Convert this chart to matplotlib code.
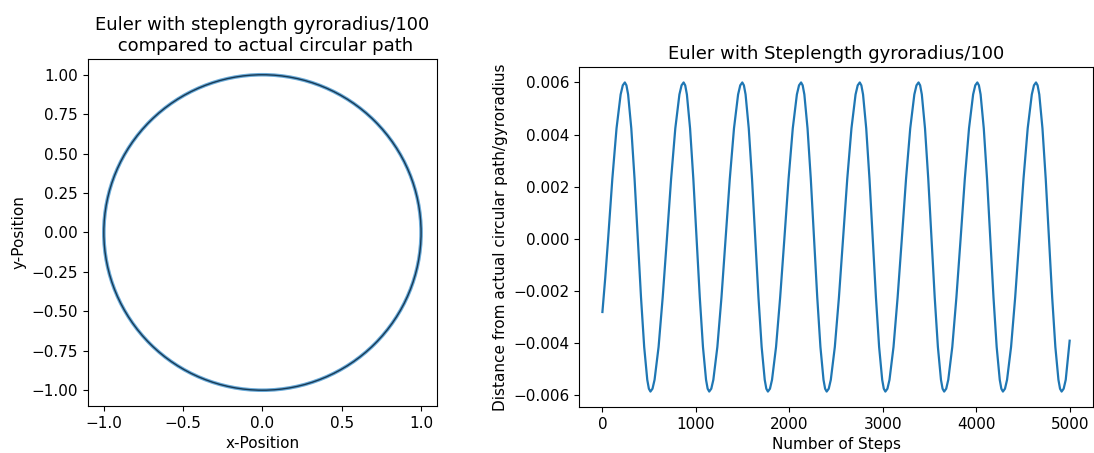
import matplotlib
matplotlib.use("Agg")
import matplotlib.pyplot as plt
from matplotlib.patches import Circle

plt.rcParams['font.size'] = 11

# left panel: radius of the two paths (in units of gyroradius)
euler_radius = 1.0
actual_radius = 1.0

# right panel: distance from circular path / gyroradius
steps = [0, 30,
         61, 106, 151, 195, 218, 240, 257, 275, 309, 344, 379, 413, 447, 480, 497, 514, 536, 558, 601, 645,
         690, 735, 780, 824, 847, 869, 886, 904, 938, 973, 1008, 1042, 1076, 1109, 1126, 1143, 1165, 1187, 1230, 1274,
         1318, 1363, 1408, 1452, 1475, 1497, 1514, 1532, 1566, 1601, 1636, 1670, 1704, 1737, 1754, 1771, 1793, 1815, 1858, 1902,
         1947, 1992, 2037, 2081, 2104, 2126, 2143, 2161, 2195, 2230, 2265, 2299, 2333, 2366, 2383, 2400, 2422, 2444, 2487, 2531,
         2575, 2620, 2665, 2709, 2732, 2754, 2771, 2789, 2823, 2858, 2893, 2927, 2961, 2994, 3011, 3028, 3050, 3072, 3115, 3159,
         3204, 3249, 3294, 3338, 3361, 3383, 3400, 3418, 3452, 3487, 3522, 3556, 3590, 3623, 3640, 3657, 3679, 3701, 3744, 3788,
         3833, 3878, 3923, 3967, 3990, 4012, 4029, 4047, 4081, 4116, 4151, 4185, 4219, 4252, 4269, 4286, 4308, 4330, 4373, 4417,
         4461, 4506, 4551, 4595, 4618, 4640, 4657, 4675, 4709, 4744, 4779, 4813, 4847, 4880, 4897, 4914, 4936, 4958, 5000]
distance = [-0.0028, -0.0015,
            0.0, 0.0023, 0.00424, 0.00554, 0.00589, 0.0060, 0.00589, 0.00554, 0.00424, 0.0023, 0.0, -0.00224, -0.00414, -0.0054, -0.00574, -0.00585, -0.00574, -0.0054, -0.00414, -0.00224,
            0.0, 0.0023, 0.00424, 0.00554, 0.00589, 0.0060, 0.00589, 0.00554, 0.00424, 0.0023, 0.0, -0.00224, -0.00414, -0.0054, -0.00574, -0.00585, -0.00574, -0.0054, -0.00414, -0.00224,
            0.0, 0.0023, 0.00424, 0.00554, 0.00589, 0.0060, 0.00589, 0.00554, 0.00424, 0.0023, 0.0, -0.00224, -0.00414, -0.0054, -0.00574, -0.00585, -0.00574, -0.0054, -0.00414, -0.00224,
            0.0, 0.0023, 0.00424, 0.00554, 0.00589, 0.0060, 0.00589, 0.00554, 0.00424, 0.0023, 0.0, -0.00224, -0.00414, -0.0054, -0.00574, -0.00585, -0.00574, -0.0054, -0.00414, -0.00224,
            0.0, 0.0023, 0.00424, 0.00554, 0.00589, 0.0060, 0.00589, 0.00554, 0.00424, 0.0023, 0.0, -0.00224, -0.00414, -0.0054, -0.00574, -0.00585, -0.00574, -0.0054, -0.00414, -0.00224,
            0.0, 0.0023, 0.00424, 0.00554, 0.00589, 0.0060, 0.00589, 0.00554, 0.00424, 0.0023, 0.0, -0.00224, -0.00414, -0.0054, -0.00574, -0.00585, -0.00574, -0.0054, -0.00414, -0.00224,
            0.0, 0.0023, 0.00424, 0.00554, 0.00589, 0.0060, 0.00589, 0.00554, 0.00424, 0.0023, 0.0, -0.00224, -0.00414, -0.0054, -0.00574, -0.00585, -0.00574, -0.0054, -0.00414, -0.00224,
            0.0, 0.0023, 0.00424, 0.00554, 0.00589, 0.0060, 0.00589, 0.00554, 0.00424, 0.0023, 0.0, -0.00224, -0.00414, -0.0054, -0.00574, -0.00585, -0.00574, -0.0054, -0.0039]

fig = plt.figure(figsize=(10.94, 4.53), dpi=100)

#left: euler path vs actual circle
ax1 = fig.add_axes([0.0804, 0.1038, 0.3190, 0.766])
ax1.add_patch(Circle((0, 0), euler_radius, fill=False, color='#6aaad8', lw=2.6))
ax1.add_patch(Circle((0, 0), actual_radius, fill=False, color='#163a56', lw=1.0))
ax1.autoscale_view()
ax1.set_xticks([-1.0, -0.5, 0.0, 0.5, 1.0])
ax1.set_yticks([-1.0, -0.75, -0.5, -0.25, 0.0, 0.25, 0.5, 0.75, 1.0])
ax1.set_xlabel("x-Position")
ax1.set_ylabel("y-Position")
ax1.set_title("Euler with steplength gyroradius/100\n compared to actual circular path", fontsize=13)

#right: deviation from circle
ax2 = fig.add_axes([0.5293, 0.1015, 0.4698, 0.7506])
ax2.plot(steps, distance, color='#1f77b4', lw=1.6)
ax2.set_xlabel("Number of Steps")
ax2.set_ylabel("Distance from actual circular path/gyroradius")
ax2.set_title("Euler with Steplength gyroradius/100", fontsize=13)

fig.savefig("out.png", dpi=100)
